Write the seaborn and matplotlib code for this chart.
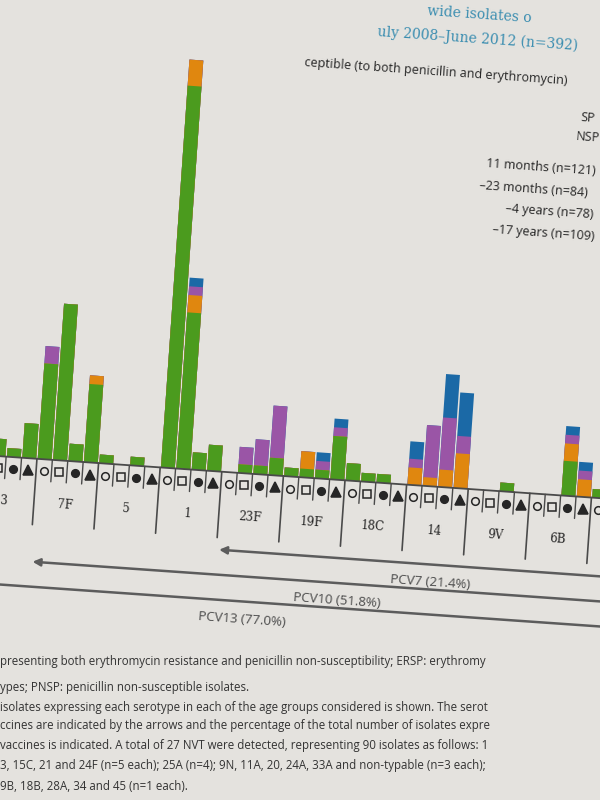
import pandas as pd
import seaborn as sns
import matplotlib.pyplot as plt
from matplotlib.transforms import Affine2D
from matplotlib.patches import FancyArrowPatch

sns.set_theme(style="white")
plt.rcParams['font.family'] = ['Open Sans', 'DejaVu Sans']

# ------------------------------------------------------------------------
# data (the photographed page is mirrored, so serotypes run right-to-left)
# ------------------------------------------------------------------------

serotypes = ["3", "7F", "5", "1", "23F", "19F", "18C", "14", "9V", "6B", "4"]
ages = ["5-17 years", "2-4 years", "12-23 months", "0-11 months"]
age_marker = ["o", "s", "o", "^"]
age_filled = [False, False, True, True]

# isolates per bar, 4 bars (ages above) per serotype
susceptible = [2, 2, 1, 4,    11, 18, 2, 9,   1, 0, 1, 0,   44, 18, 2, 3,
               0, 1, 1, 2,    1, 1, 1, 5,     2, 1, 1, 0,   0, 0, 0, 0,
               0, 0, 1, 0,    0, 0, 4, 0,     1, 1, 0, 2]
ersp = [0, 0, 0, 0,   0, 0, 0, 1,   0, 0, 0, 0,   3, 2, 0, 0,
        0, 0, 0, 0,   0, 2, 0, 0,   0, 0, 0, 0,   2, 1, 2, 4,
        0, 0, 0, 0,   0, 0, 2, 2,   0, 0, 0, 0]
pnsp = [0, 0, 0, 0,   2, 0, 0, 0,   0, 0, 0, 0,   0, 1, 0, 0,
        0, 2, 3, 6,   0, 0, 1, 1,   0, 0, 0, 0,   1, 6, 6, 2,
        0, 0, 0, 0,   0, 0, 1, 1,   0, 0, 0, 0]
erpnsp = [0, 0, 0, 0,   0, 0, 0, 0,   0, 0, 0, 0,   0, 1, 0, 0,
          0, 0, 0, 0,   0, 0, 1, 1,   0, 0, 0, 0,   2, 0, 5, 5,
          0, 0, 0, 0,   0, 0, 1, 1,   0, 0, 0, 0]

# vaccines: label and number of serotype groups covered (ending at "4")
pcv_labels = ["PCV7 (21.4%)", "PCV10 (51.8%)", "PCV13 (77.0%)"]
pcv_groups = [7, 10, 13]

title_lines = ["wide isolates o", "uly 2008\u2013June 2012 (n=392)"]
legend_lines = ["ceptible (to both penicillin and erythromycin)", "SP", "NSP",
                "11 months (n=121)", "\u201323 months (n=84)",
                "\u20134 years (n=78)", "\u201317 years (n=109)"]
caption_lines = [
    "presenting both erythromycin resistance and penicillin non-susceptibility; ERSP: erythromy",
    "ypes; PNSP: penicillin non-susceptible isolates.",
    "isolates expressing each serotype in each of the age groups considered is shown. The serot",
    "ccines are indicated by the arrows and the percentage of the total number of isolates expre",
    "vaccines is indicated. A total of 27 NVT were detected, representing 90 isolates as follows: 1",
    "3, 15C, 21 and 24F (n=5 each); 25A (n=4); 9N, 11A, 20, 24A, 33A and non-typable (n=3 each);",
    "9B, 18B, 28A, 34 and 45 (n=1 each).",
]

# ------------------------------------------------------------------------
# look & page geometry
# ------------------------------------------------------------------------

PAPER = "#e4e2de"
GREEN, ORANGE, PURPLE, BLUE = "#4b9b1e", "#e0870f", "#9a55a6", "#1b69a6"
INK = "#262626"
TEAL = "#3a8db0"
GREY = "#5c5c5c"

BAR_PX = 15.44     # page px per bar
UNIT_PX = 8.7      # page px per isolate
BASE_Y = 477       # baseline (page px from top, before tilt)
K0 = 0.8           # bar index at the left page edge
TILT = -4.0        # the photo is a bit rotated

fig = plt.figure(figsize=(6, 8), dpi=100, facecolor=PAPER)
rot = Affine2D().rotate_deg_around(300, 400, TILT)

ax = fig.add_axes([0, 0, 1, 1])
ax.set_facecolor("none")

bar_ids = [f"{s}|{a}" for s in serotypes for a in ages]
df = pd.DataFrame({"bar": bar_ids, "susceptible": susceptible, "ersp": ersp,
                   "pnsp": pnsp, "erpnsp": erpnsp})
df["c1"] = df["susceptible"]
df["c2"] = df["c1"] + df["ersp"]
df["c3"] = df["c2"] + df["pnsp"]
df["c4"] = df["c3"] + df["erpnsp"]

# stacked bars: tallest layer first, lower layers painted over it
for col, colour in [("c4", BLUE), ("c3", PURPLE), ("c2", ORANGE), ("c1", GREEN)]:
    sns.barplot(data=df, x="bar", y=col, order=bar_ids, color=colour,
                width=0.9, saturation=1, linewidth=0, errorbar=None, ax=ax)

ax.set_xlim(K0, K0 + 600 / BAR_PX)
ymin = -(800 - BASE_Y) / UNIT_PX
ax.set_ylim(ymin, ymin + 800 / UNIT_PX)
ax.set_axis_off()

T = ax.transData + rot
for p in ax.patches:
    p.set_transform(T)

px = 1 / UNIT_PX
n = len(bar_ids)

# baseline, small ticks between bars, long ticks between serotypes
ax.plot([-3, n + 3], [0, 0], color="#4a4a4a", lw=1.3, transform=T)
for k in range(-1, n + 1):
    long = (k + 1) % 4 == 0
    ax.plot([k + 0.5, k + 0.5], [0, -(66 if long else 22) * px],
            color="#4a4a4a", lw=1.2 if long else 1.0, transform=T)

# age group symbols under each bar
sizes = {"o": 5.5, "s": 5.2, "^": 7.5}
for i, (m, filled) in enumerate(zip(age_marker, age_filled)):
    xs = list(range(i, n, 4))
    ax.plot(xs, [-12 * px] * len(xs), ls="none", marker=m, ms=sizes[m],
            mfc=INK if filled else "none", mec=INK, mew=1.1, transform=T)

# serotype names (only those whose block centre is on the page)
for g, s in enumerate(serotypes):
    kc = 4 * g + 1.5
    if (kc - K0) * BAR_PX > 590:
        continue
    ax.text(kc, -44 * px, s, transform=T, rotation=TILT,
            rotation_mode="anchor", ha="center", va="center",
            fontsize=8.5, family="DejaVu Serif", color=INK)

# vaccine coverage arrows
k_end = 4 * len(serotypes) - 0.5
for j, (label, ng) in enumerate(zip(pcv_labels, pcv_groups)):
    y = -(78 + 25 * j) * px
    k_start = k_end - 4 * ng
    arr = FancyArrowPatch((k_end + 4, y), (k_start, y), arrowstyle="-|>",
                          mutation_scale=11, lw=1.8, color=GREY, transform=T)
    ax.add_patch(arr)
    ax.text(k_end - 2 * ng, y - 18 * px, label, transform=T, rotation=TILT,
            rotation_mode="anchor", ha="center", va="center",
            fontsize=9.5, color="#4a4a4a")

# ------------------------------------------------------------------------
# page text around the chart (pixel coordinates)
# ------------------------------------------------------------------------

ax2 = fig.add_axes([0, 0, 1, 1])
ax2.set_facecolor("none")
ax2.set_xlim(0, 600)
ax2.set_ylim(800, 0)
ax2.set_axis_off()
T2 = ax2.transData + rot

title_xy = [(400, 3), (352, 27)]
for s, (x, y) in zip(title_lines, title_xy):
    ax2.text(x, y, s, transform=T2, rotation=TILT, rotation_mode="anchor",
             ha="left", va="center", fontsize=10, family="DejaVu Serif",
             color=TEAL)

legend_xy = [(281, 63), (560, 99), (557, 118), (469, 151), (464, 174),
             (492, 195), (480, 217)]
for s, (x, y) in zip(legend_lines, legend_xy):
    ax2.text(x, y, s, transform=T2, rotation=TILT, rotation_mode="anchor",
             ha="left", va="center", fontsize=9, color=INK)

caption_y = [662, 688, 707, 726, 745, 765, 786]
for s, y in zip(caption_lines, caption_y):
    ax2.text(0, y, s, ha="left", va="center", fontsize=8.3, color="#333333")

fig.savefig("out.png", dpi=100, facecolor=PAPER)
